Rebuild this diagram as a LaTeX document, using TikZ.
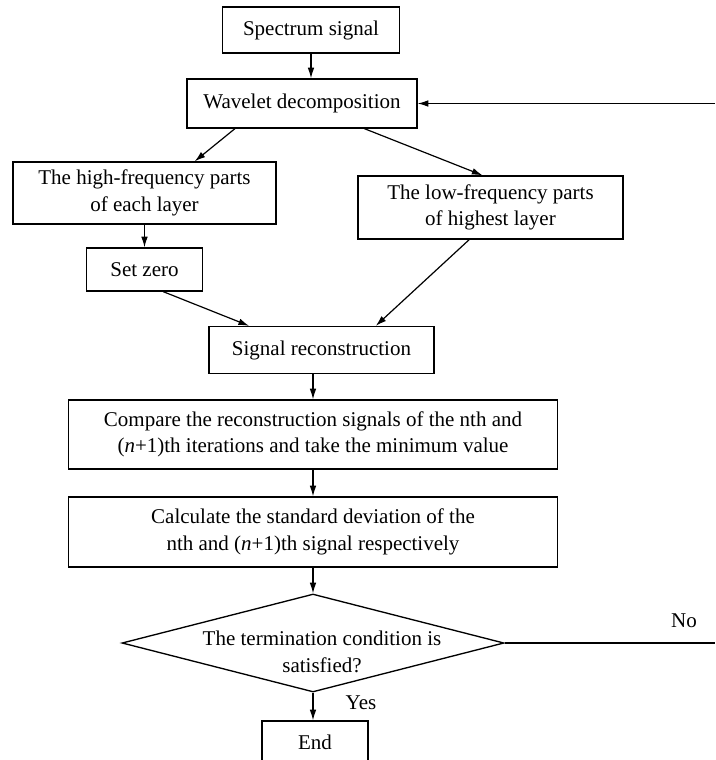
\documentclass[tikz,border=0pt]{standalone}
\usepackage{fontspec}
\setmainfont{Liberation Serif}
\usetikzlibrary{shapes.geometric, arrows.meta, calc}

\begin{document}
\begin{tikzpicture}[x=0.75pt, y=-0.75pt, font=\fontsize{15.75}{20}\selectfont,
    box/.style={draw, line width=1pt, align=center, inner sep=2pt},
    dec/.style={draw, diamond, line width=1pt, inner sep=0pt, minimum width=286.5pt, minimum height=73.5pt},
    arr/.style={-{Latex[length=8pt, width=5pt]}, line width=0.9pt}]
    \useasboundingbox (0,0) rectangle (715,760);
    \clip (0,0) rectangle (715,760);
    \node[box, minimum width=132.75pt, minimum height=34.5pt] (spec) at (311,30) {Spectrum signal};
    \node[box, minimum width=172.5pt, minimum height=36.75pt] (wav) at (302,103.5) {Wavelet decomposition};
    \node[box, minimum width=197.25pt, minimum height=46.5pt] (high) at (144.5,193) {The high-frequency parts\\of each layer};
    \node[box, minimum width=198.75pt, minimum height=47.25pt] (low) at (490.5,207.5) {The low-frequency parts\\of highest layer};
    \node[box, minimum width=87pt, minimum height=32.25pt] (zero) at (144.5,269.5) {Set zero};
    \node[box, minimum width=168.75pt, minimum height=35.25pt] (rec) at (321.5,350) {Signal reconstruction};
    \node[box, minimum width=366.75pt, minimum height=51.75pt] (cmp) at (313,434.5) {Compare the reconstruction signals of the nth and\\(\textit{n}+1)th iterations and take the minimum value};
    \node[box, minimum width=366.75pt, minimum height=52.5pt] (calc) at (313,532) {Calculate the standard deviation of the\\nth and (\textit{n}+1)th signal respectively};
    \node[dec] (cond) at (313,643) {};
    \node[align=center] (condtxt) at (322,652) {The termination condition is\\satisfied?};
    \node[box, minimum width=79.5pt, minimum height=32.25pt] (fin) at (315,742.5) {End};
    \node (yes) at (361,703) {Yes};
    \node (no) at (684,621) {No};
    \coordinate (fbin) at (715,643);
    \coordinate (fbout) at (715,103.5);
    \draw[arr] (spec.south) -- (spec.south |- wav.north);
    \draw[arr] ($(wav.south west)!0.21!(wav.south east)$) -- ($(high.north west)!0.69!(high.north east)$);
    \draw[arr] ($(wav.south west)!0.77!(wav.south east)$) -- ($(low.north west)!0.47!(low.north east)$);
    \draw[arr] (high.south) -- (zero.north);
    \draw[arr] ($(zero.south west)!0.66!(zero.south east)$) -- ($(rec.north west)!0.18!(rec.north east)$);
    \draw[arr] ($(low.south west)!0.42!(low.south east)$) -- ($(rec.north west)!0.74!(rec.north east)$);
    \draw[arr] (cmp.north |- rec.south) -- (cmp.north);
    \draw[arr] (cmp.south) -- (calc.north);
    \draw[arr] (calc.south) -- (cond.north);
    \draw[arr] (cond.south) -- (cond.south |- fin.north);
    \draw[line width=0.9pt] (cond.east) -- (fbin);
    \draw[arr] (fbout) -- (wav.east);
\end{tikzpicture}
\end{document}
